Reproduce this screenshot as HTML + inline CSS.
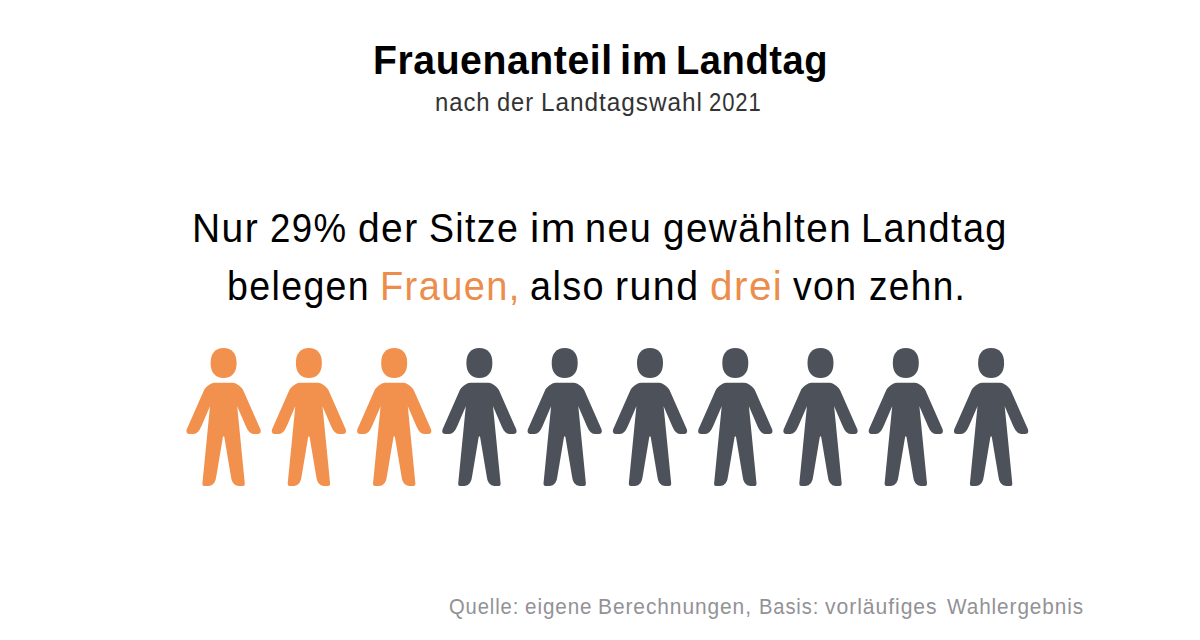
<!DOCTYPE html>
<html><head><meta charset="utf-8">
<style>
html,body{margin:0;padding:0;background:#fff;}
body{width:1200px;height:640px;position:relative;overflow:hidden;font-family:"Liberation Sans",sans-serif;}
.t{position:absolute;white-space:nowrap;line-height:1;transform-origin:0 0;}
.fw{font-size:22.5px;color:#929296;letter-spacing:1px;top:596.15px;}
#fw0{left:448.52px;transform:scaleX(0.8962);}
#fw1{left:524.51px;transform:scaleX(0.9166);}
#fw2{left:598.49px;transform:scaleX(0.9293);}
#fw3{left:758.54px;transform:scaleX(0.8944);}
#fw4{left:825.49px;transform:scaleX(0.9395);}
#fw5{left:946.50px;transform:scaleX(0.9208);}
.tw{font-weight:bold;letter-spacing:0.6px;font-size:41px;color:#000;top:39.89px;}
.sw{letter-spacing:1px;font-size:25.5px;color:#333;top:89.91px;}
#c0{left:372.87px;transform:scaleX(0.9548);}
#c1{left:619.78px;transform:scaleX(0.9791);}
#c2{left:675.97px;transform:scaleX(0.9296);}
#d0{left:435.37px;transform:scaleX(0.9367);}
#d1{left:497.20px;transform:scaleX(0.9287);}
#d2{left:541.14px;transform:scaleX(0.9554);}
#d3{left:709.27px;transform:scaleX(0.8646);}
.w1{letter-spacing:1.5px;font-size:41px;color:#000;top:207.89px;}
.w2{letter-spacing:1.5px;font-size:41px;color:#000;top:265.89px;}
#a0{left:191.89px;transform:scaleX(0.9509);}
#a1{left:269.97px;transform:scaleX(0.8931);}
#a2{left:358.38px;transform:scaleX(0.9498);}
#a3{left:428.62px;transform:scaleX(0.9136);}
#a4{left:529.67px;transform:scaleX(1.0147);}
#a5{left:585.49px;transform:scaleX(0.9232);}
#a6{left:663.38px;transform:scaleX(0.9435);}
#a7{left:861.38px;transform:scaleX(0.9253);}
#b0{left:227.01px;transform:scaleX(0.9147);}
#b1{left:380.08px;transform:scaleX(0.9270);}
#b2{left:529.60px;transform:scaleX(0.9226);}
#b3{left:615.40px;transform:scaleX(0.9588);}
#b4{left:710.32px;transform:scaleX(0.9860);}
#b5{left:792.77px;transform:scaleX(0.9127);}
#b6{left:868.81px;transform:scaleX(0.9014);}
.o{color:#EC8D4C;}
svg{position:absolute;left:0;top:0;}
</style></head><body>
<div class="t tw" id="c0">Frauenanteil</div>
<div class="t tw" id="c1">im</div>
<div class="t tw" id="c2">Landtag</div>
<div class="t sw" id="d0">nach</div>
<div class="t sw" id="d1">der</div>
<div class="t sw" id="d2">Landtagswahl</div>
<div class="t sw" id="d3">2021</div>
<div class="t w1" id="a0">Nur</div>
<div class="t w1" id="a1">29%</div>
<div class="t w1" id="a2">der</div>
<div class="t w1" id="a3">Sitze</div>
<div class="t w1" id="a4">im</div>
<div class="t w1" id="a5">neu</div>
<div class="t w1" id="a6">gewählten</div>
<div class="t w1" id="a7">Landtag</div>
<div class="t w2" id="b0">belegen</div>
<div class="t w2 o" id="b1">Frauen,</div>
<div class="t w2" id="b2">also</div>
<div class="t w2" id="b3">rund</div>
<div class="t w2 o" id="b4">drei</div>
<div class="t w2" id="b5">von</div>
<div class="t w2" id="b6">zehn.</div>
<div class="t fw" id="fw0">Quelle:</div>
<div class="t fw" id="fw1">eigene</div>
<div class="t fw" id="fw2">Berechnungen,</div>
<div class="t fw" id="fw3">Basis:</div>
<div class="t fw" id="fw4">vorläufiges</div>
<div class="t fw" id="fw5">Wahlergebnis</div>

<svg width="1200" height="640" viewBox="0 0 1200 640">
<g fill="#F1914D">
<g transform="translate(223.6,348)"><path d="M0 0 C8.32 0 13 5.40 13 15 C13 24.60 8.32 30 0 30 C-8.32 30 -13 24.60 -13 15 C-13 5.40 -8.32 0 0 0Z"/>
<path d="M0 34.75 L9 34.75 C13 34.75 18.5 39.5 19.74 42.55 L36.92 81.6 Q38 86 34 86 L30 86 Q25.46 86 22.1 78 L13.6 58.3 L21.2 135.6 Q21.4 138 19.5 138 L15 138 Q8.2 138 7.2 127.8 L0.7 89 Q0 87.6 -0.7 89 L-7.2 127.8 Q-8.2 138 -15 138 L-19.5 138 Q-21.4 138 -21.2 135.6 L-13.6 58.3 L-22.1 78 Q-25.46 86 -30 86 L-34 86 Q-38 86 -36.92 81.6 L-19.74 42.55 C-18.5 39.5 -13 34.75 -9 34.75 Z"/></g>
<g transform="translate(308.9,348)"><path d="M0 0 C8.32 0 13 5.40 13 15 C13 24.60 8.32 30 0 30 C-8.32 30 -13 24.60 -13 15 C-13 5.40 -8.32 0 0 0Z"/>
<path d="M0 34.75 L9 34.75 C13 34.75 18.5 39.5 19.74 42.55 L36.92 81.6 Q38 86 34 86 L30 86 Q25.46 86 22.1 78 L13.6 58.3 L21.2 135.6 Q21.4 138 19.5 138 L15 138 Q8.2 138 7.2 127.8 L0.7 89 Q0 87.6 -0.7 89 L-7.2 127.8 Q-8.2 138 -15 138 L-19.5 138 Q-21.4 138 -21.2 135.6 L-13.6 58.3 L-22.1 78 Q-25.46 86 -30 86 L-34 86 Q-38 86 -36.92 81.6 L-19.74 42.55 C-18.5 39.5 -13 34.75 -9 34.75 Z"/></g>
<g transform="translate(394.2,348)"><path d="M0 0 C8.32 0 13 5.40 13 15 C13 24.60 8.32 30 0 30 C-8.32 30 -13 24.60 -13 15 C-13 5.40 -8.32 0 0 0Z"/>
<path d="M0 34.75 L9 34.75 C13 34.75 18.5 39.5 19.74 42.55 L36.92 81.6 Q38 86 34 86 L30 86 Q25.46 86 22.1 78 L13.6 58.3 L21.2 135.6 Q21.4 138 19.5 138 L15 138 Q8.2 138 7.2 127.8 L0.7 89 Q0 87.6 -0.7 89 L-7.2 127.8 Q-8.2 138 -15 138 L-19.5 138 Q-21.4 138 -21.2 135.6 L-13.6 58.3 L-22.1 78 Q-25.46 86 -30 86 L-34 86 Q-38 86 -36.92 81.6 L-19.74 42.55 C-18.5 39.5 -13 34.75 -9 34.75 Z"/></g>
</g>
<g fill="#4D5159">
<g transform="translate(479.4,348)"><path d="M0 0 C8.32 0 13 5.40 13 15 C13 24.60 8.32 30 0 30 C-8.32 30 -13 24.60 -13 15 C-13 5.40 -8.32 0 0 0Z"/>
<path d="M0 34.75 L9 34.75 C13 34.75 18.5 39.5 19.74 42.55 L36.92 81.6 Q38 86 34 86 L30 86 Q25.46 86 22.1 78 L13.6 58.3 L21.2 135.6 Q21.4 138 19.5 138 L15 138 Q8.2 138 7.2 127.8 L0.7 89 Q0 87.6 -0.7 89 L-7.2 127.8 Q-8.2 138 -15 138 L-19.5 138 Q-21.4 138 -21.2 135.6 L-13.6 58.3 L-22.1 78 Q-25.46 86 -30 86 L-34 86 Q-38 86 -36.92 81.6 L-19.74 42.55 C-18.5 39.5 -13 34.75 -9 34.75 Z"/></g>
<g transform="translate(564.7,348)"><path d="M0 0 C8.32 0 13 5.40 13 15 C13 24.60 8.32 30 0 30 C-8.32 30 -13 24.60 -13 15 C-13 5.40 -8.32 0 0 0Z"/>
<path d="M0 34.75 L9 34.75 C13 34.75 18.5 39.5 19.74 42.55 L36.92 81.6 Q38 86 34 86 L30 86 Q25.46 86 22.1 78 L13.6 58.3 L21.2 135.6 Q21.4 138 19.5 138 L15 138 Q8.2 138 7.2 127.8 L0.7 89 Q0 87.6 -0.7 89 L-7.2 127.8 Q-8.2 138 -15 138 L-19.5 138 Q-21.4 138 -21.2 135.6 L-13.6 58.3 L-22.1 78 Q-25.46 86 -30 86 L-34 86 Q-38 86 -36.92 81.6 L-19.74 42.55 C-18.5 39.5 -13 34.75 -9 34.75 Z"/></g>
<g transform="translate(650,348)"><path d="M0 0 C8.32 0 13 5.40 13 15 C13 24.60 8.32 30 0 30 C-8.32 30 -13 24.60 -13 15 C-13 5.40 -8.32 0 0 0Z"/>
<path d="M0 34.75 L9 34.75 C13 34.75 18.5 39.5 19.74 42.55 L36.92 81.6 Q38 86 34 86 L30 86 Q25.46 86 22.1 78 L13.6 58.3 L21.2 135.6 Q21.4 138 19.5 138 L15 138 Q8.2 138 7.2 127.8 L0.7 89 Q0 87.6 -0.7 89 L-7.2 127.8 Q-8.2 138 -15 138 L-19.5 138 Q-21.4 138 -21.2 135.6 L-13.6 58.3 L-22.1 78 Q-25.46 86 -30 86 L-34 86 Q-38 86 -36.92 81.6 L-19.74 42.55 C-18.5 39.5 -13 34.75 -9 34.75 Z"/></g>
<g transform="translate(735.3,348)"><path d="M0 0 C8.32 0 13 5.40 13 15 C13 24.60 8.32 30 0 30 C-8.32 30 -13 24.60 -13 15 C-13 5.40 -8.32 0 0 0Z"/>
<path d="M0 34.75 L9 34.75 C13 34.75 18.5 39.5 19.74 42.55 L36.92 81.6 Q38 86 34 86 L30 86 Q25.46 86 22.1 78 L13.6 58.3 L21.2 135.6 Q21.4 138 19.5 138 L15 138 Q8.2 138 7.2 127.8 L0.7 89 Q0 87.6 -0.7 89 L-7.2 127.8 Q-8.2 138 -15 138 L-19.5 138 Q-21.4 138 -21.2 135.6 L-13.6 58.3 L-22.1 78 Q-25.46 86 -30 86 L-34 86 Q-38 86 -36.92 81.6 L-19.74 42.55 C-18.5 39.5 -13 34.75 -9 34.75 Z"/></g>
<g transform="translate(820.5,348)"><path d="M0 0 C8.32 0 13 5.40 13 15 C13 24.60 8.32 30 0 30 C-8.32 30 -13 24.60 -13 15 C-13 5.40 -8.32 0 0 0Z"/>
<path d="M0 34.75 L9 34.75 C13 34.75 18.5 39.5 19.74 42.55 L36.92 81.6 Q38 86 34 86 L30 86 Q25.46 86 22.1 78 L13.6 58.3 L21.2 135.6 Q21.4 138 19.5 138 L15 138 Q8.2 138 7.2 127.8 L0.7 89 Q0 87.6 -0.7 89 L-7.2 127.8 Q-8.2 138 -15 138 L-19.5 138 Q-21.4 138 -21.2 135.6 L-13.6 58.3 L-22.1 78 Q-25.46 86 -30 86 L-34 86 Q-38 86 -36.92 81.6 L-19.74 42.55 C-18.5 39.5 -13 34.75 -9 34.75 Z"/></g>
<g transform="translate(905.8,348)"><path d="M0 0 C8.32 0 13 5.40 13 15 C13 24.60 8.32 30 0 30 C-8.32 30 -13 24.60 -13 15 C-13 5.40 -8.32 0 0 0Z"/>
<path d="M0 34.75 L9 34.75 C13 34.75 18.5 39.5 19.74 42.55 L36.92 81.6 Q38 86 34 86 L30 86 Q25.46 86 22.1 78 L13.6 58.3 L21.2 135.6 Q21.4 138 19.5 138 L15 138 Q8.2 138 7.2 127.8 L0.7 89 Q0 87.6 -0.7 89 L-7.2 127.8 Q-8.2 138 -15 138 L-19.5 138 Q-21.4 138 -21.2 135.6 L-13.6 58.3 L-22.1 78 Q-25.46 86 -30 86 L-34 86 Q-38 86 -36.92 81.6 L-19.74 42.55 C-18.5 39.5 -13 34.75 -9 34.75 Z"/></g>
<g transform="translate(991.1,348)"><path d="M0 0 C8.32 0 13 5.40 13 15 C13 24.60 8.32 30 0 30 C-8.32 30 -13 24.60 -13 15 C-13 5.40 -8.32 0 0 0Z"/>
<path d="M0 34.75 L9 34.75 C13 34.75 18.5 39.5 19.74 42.55 L36.92 81.6 Q38 86 34 86 L30 86 Q25.46 86 22.1 78 L13.6 58.3 L21.2 135.6 Q21.4 138 19.5 138 L15 138 Q8.2 138 7.2 127.8 L0.7 89 Q0 87.6 -0.7 89 L-7.2 127.8 Q-8.2 138 -15 138 L-19.5 138 Q-21.4 138 -21.2 135.6 L-13.6 58.3 L-22.1 78 Q-25.46 86 -30 86 L-34 86 Q-38 86 -36.92 81.6 L-19.74 42.55 C-18.5 39.5 -13 34.75 -9 34.75 Z"/></g>
</g>
</svg>
</body></html>
